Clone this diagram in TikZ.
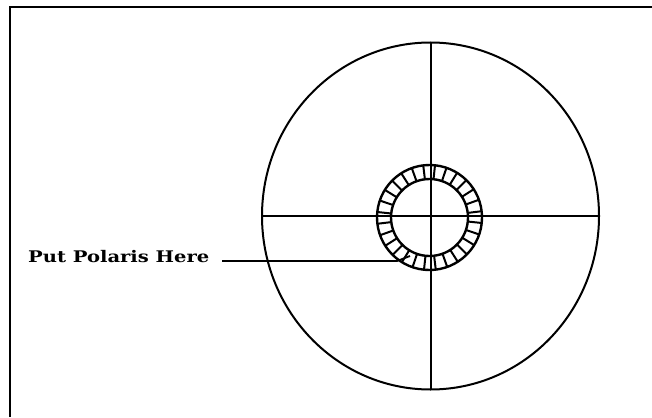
\documentclass[tikz,border=0pt]{standalone}
\usepackage{fontspec}
\newfontfamily\labelfont{DejaVu Serif}
\usepackage{tikz}

\begin{document}
\begin{tikzpicture}[x=1pt,y=-1pt]
    \useasboundingbox (0,0) rectangle (652,417);
    % cadre (haut et gauche)
    \draw[line width=2.5pt] (10,417) -- (10,7) -- (652,7);

    \coordinate (O) at (430.5,216);
    \coordinate (C) at (429.5,217.5);

    % grand cercle et reticule
    \draw[line width=2pt] (O) ellipse [x radius=168.5, y radius=173.5];
    \draw[line width=1.8pt] (262,216) -- (599,216);
    \draw[line width=1.8pt] (431,42.5) -- (431,389.5);

    % anneau gradue
    \draw[line width=2.4pt] (C) circle (52.5);
    \draw[line width=2.4pt] (C) circle (38.5);
    \foreach \i in {0,...,27}
        \draw[line width=2pt, shift={(C)}] ({\i*360/28+6}:38.5) -- ({\i*360/28+6}:52.5);

    % repere
    \node[anchor=base west, inner sep=0pt, xscale=1.22, font=\labelfont\bfseries\fontsize{16}{16}\selectfont] (lbl) at (28,262) {Put Polaris Here};
    \coordinate (S) at (222,261);
    \coordinate (P) at (410,256);
    \draw[line width=1.8pt] (S) -- (397,261) -- (P);
\end{tikzpicture}
\end{document}
